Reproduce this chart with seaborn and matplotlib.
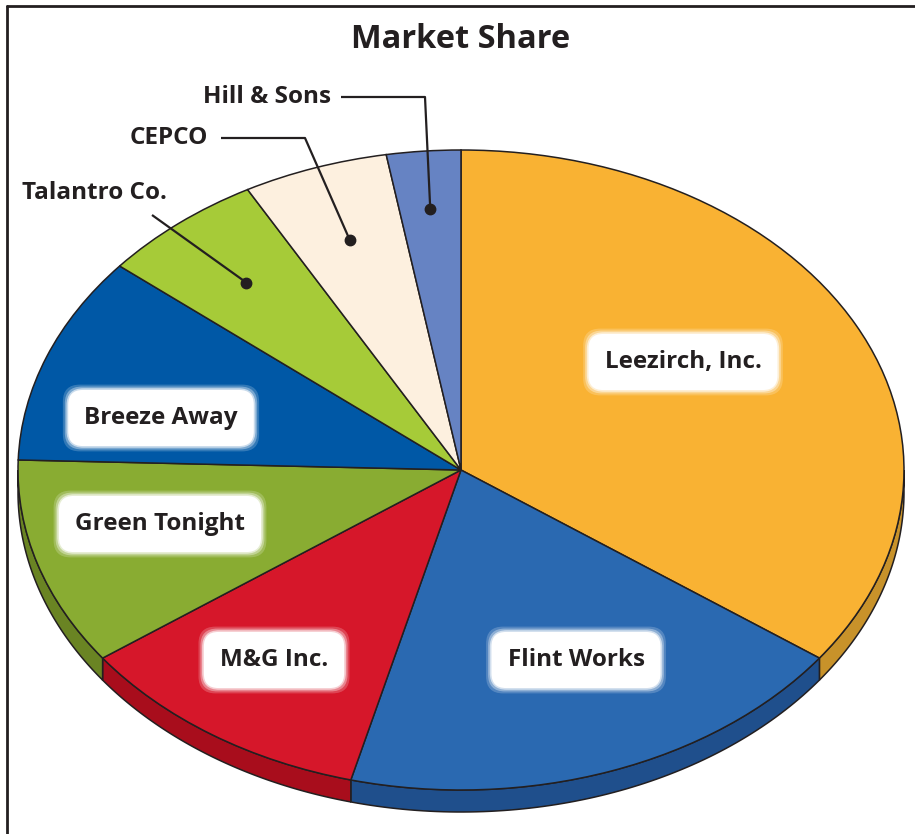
import numpy as np
import matplotlib
matplotlib.use("Agg")
import matplotlib.pyplot as plt
import seaborn as sns
from matplotlib.patches import Polygon
from matplotlib.lines import Line2D

# market share (%), clockwise from 12 o'clock
companies = ['Leezirch, Inc.', 'Flint Works', 'M&G Inc.', 'Green Tonight',
             'Breeze Away', 'Talantro Co.', 'CEPCO', 'Hill & Sons']
shares = [35.0, 19.0, 11.0, 10.5, 10.5, 6.0, 5.3, 2.7]
face_colors = ['#F9B233', '#2A69B1', '#D6172A', '#89AC32',
               '#0058A6', '#A6CB38', '#FDF0DF', '#6683C3']
side_colors = ['#C8922A', '#1F4F8C', '#A80D1C', '#6A8423',
               '#00427D', '#7F9D2A', '#D9C9B5', '#4B64A0']

sns.set_theme(style='white')
plt.rcParams['font.family'] = ['Open Sans', 'DejaVu Sans']

W, H = 915, 834
CX, CY, RX, RY = 461, 470, 443, 320
DEPTH = 22 / RY
INK = '#231F20'
FS = 17.5


def px(x, y):
    # pixel position -> data coords of the (stretched) pie
    return (x - CX) / RX, (CY - y) / RY


fig = plt.figure(figsize=(W / 100, H / 100), dpi=100)
ax = fig.add_axes([0, 0, 1, 1])

wedges, _ = ax.pie(shares, colors=face_colors, startangle=90, counterclock=False,
                   wedgeprops=dict(edgecolor=INK, linewidth=1.1), radius=1)
for w in wedges:
    w.set_zorder(3)

# side wall of the disc (only the front half is visible)
for w, sc in zip(wedges, side_colors):
    for lo, hi in [(-180, 0), (180, 360), (-540, -360)]:
        a, b = max(w.theta1, lo), min(w.theta2, hi)
        if b <= a:
            continue
        t = np.radians(np.linspace(a, b, 80))
        top = np.column_stack([np.cos(t), np.sin(t)])
        bot = np.column_stack([np.cos(t[::-1]), np.sin(t[::-1]) - DEPTH])
        ax.add_patch(Polygon(np.vstack([top, bot]), closed=True, facecolor=sc,
                             edgecolor=INK, linewidth=1.1, zorder=2))

ax.set_aspect('auto')
ax.set_xlim(-CX / RX, (W - CX) / RX)
ax.set_ylim((CY - H) / RY, CY / RY)
ax.axis('off')

# labels in white glowing boxes
inside = {'Leezirch, Inc.': (683, 362), 'Flint Works': (576, 660),
          'M&G Inc.': (274, 660), 'Green Tonight': (160, 524),
          'Breeze Away': (161, 418)}
for name, (x, y) in inside.items():
    X, Y = px(x, y)
    for pad, alpha in [(0.88, 0.2), (0.8, 0.35), (0.73, 0.6)]:
        ax.text(X, Y, name, fontsize=FS, fontweight='bold', color='none',
                ha='center', va='center', zorder=5,
                bbox=dict(boxstyle=f'round,pad={pad},rounding_size=0.7',
                          facecolor='white', edgecolor='none', alpha=alpha))
    ax.text(X, Y, name, fontsize=FS, fontweight='bold', color=INK,
            ha='center', va='center', zorder=6,
            bbox=dict(boxstyle='round,pad=0.66,rounding_size=0.6',
                      facecolor='white', edgecolor='none'))

# callouts for the thin slices
callouts = {'Hill & Sons': dict(text=(331, 97, 'right'), path=[(341, 97), (425, 97)], r=0.82),
            'CEPCO': dict(text=(208, 138, 'right'), path=[(221, 138), (305, 138)], r=0.76),
            'Talantro Co.': dict(text=(22, 193, 'left'), path=[(152, 215)], r=0.76)}
for w, name in zip(wedges, companies):
    if name not in callouts:
        continue
    c = callouts[name]
    mid = np.radians((w.theta1 + w.theta2) / 2)
    dot = (c['r'] * np.cos(mid), c['r'] * np.sin(mid))
    pts = [px(*p) for p in c['path']] + [dot]
    ax.plot([p[0] for p in pts], [p[1] for p in pts], color=INK, lw=1.6, zorder=7,
            solid_capstyle='butt')
    ax.plot(*dot, 'o', color=INK, markersize=7.5, zorder=8)
    tx, ty, ha = c['text']
    X, Y = px(tx, ty)
    ax.text(X, Y, name, fontsize=FS, fontweight='bold', color=INK,
            ha=ha, va='center', zorder=8)

fig.text(461 / W, 1 - 40 / H, 'Market Share', fontsize=23.5, fontweight='bold',
         color=INK, ha='center', va='center')

# frame (top and left edges only)
fig.add_artist(Line2D([7 / W, 1], [1 - 6 / H, 1 - 6 / H], color=INK, lw=2))
fig.add_artist(Line2D([7 / W, 7 / W], [0, 1 - 6 / H], color=INK, lw=2))

fig.savefig('out.png', dpi=100, facecolor='white')
